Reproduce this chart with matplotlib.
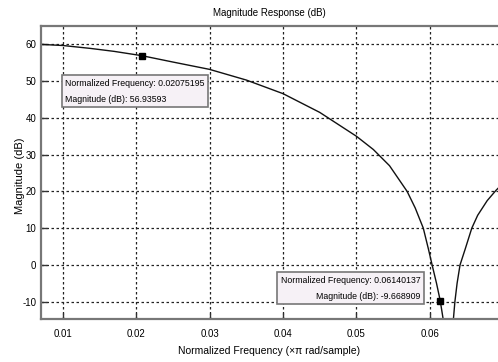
import matplotlib
matplotlib.use("Agg")
import matplotlib.pyplot as plt
from matplotlib import font_manager

names = {f.name for f in font_manager.fontManager.ttflist}
fam = ['Liberation Sans Narrow', 'Liberation Sans', 'DejaVu Sans']
fam = [f for f in fam if f in names] + ['DejaVu Sans']
plt.rcParams['font.family'] = fam

# Curve (normalized frequency, magnitude in dB)
freq = [0.0070, 0.0100, 0.0138, 0.0170, 0.02075, 0.0250, 0.0300,
        0.0350, 0.0400, 0.0450, 0.0500, 0.0523, 0.0545, 0.0569, 0.0580,
        0.0591, 0.0598, 0.0603, 0.0609, 0.0614, 0.0618, 0.0622, 0.0626,
        0.0630, 0.0632, 0.0634, 0.0637, 0.0641, 0.0648, 0.0657, 0.0665,
        0.0678, 0.0690, 0.0700]
mag = [60.0, 59.7, 58.9, 58.1, 56.94, 55.2, 53.2,
       50.3, 46.6, 41.5, 35.0, 31.4, 27.0, 20.0, 15.5,
       10.0, 4.3, 0.0, -5.0, -9.67, -14.7, -24.0, -40.0,
       -24.0, -14.7, -10.0, -5.0, 0.0, 4.3, 10.0, 13.5,
       17.5, 20.3, 22.3]

# Data tips
tip_x = [0.02075195, 0.06140137]
tip_y = [56.93593, -9.668909]

xticks = [0.01, 0.02, 0.03, 0.04, 0.05, 0.06]
yticks = [-10, 0, 10, 20, 30, 40, 50, 60]

W, H = 498, 362
fig = plt.figure(figsize=(W / 100, H / 100), dpi=100)
ax = fig.add_axes([41 / W, 1 - 319 / H, (498 - 41) / W, (319 - 26) / H])

ax.plot(freq, mag, color='#111111', lw=1.0)
ax.plot(tip_x, tip_y, 's', color='black', ms=4.5)

ax.set_xlim(0.00705, 0.06927)
ax.set_ylim(-14.7, 65.0)
ax.set_xticks(xticks)
ax.set_xticklabels([f"{v:g}" for v in xticks])
ax.set_yticks(yticks)
ax.set_yticklabels([str(v) for v in yticks])
ax.tick_params(direction='in', length=4, width=1, labelsize=7, color='#333333')
ax.tick_params(axis='x', pad=7)
ax.grid(True, linestyle=(0, (2, 2)), color='#222222', lw=0.9)
ax.set_axisbelow(True)
for s in ['left', 'bottom', 'top']:
    ax.spines[s].set_color('#777777')
    ax.spines[s].set_linewidth(1.6)
ax.spines['right'].set_visible(False)

ax.set_title('Magnitude Response (dB)', fontsize=7, pad=7)
ax.set_xlabel('Normalized Frequency (\u00d7\u03c0 rad/sample)', fontsize=7.5, labelpad=5)
ax.set_ylabel('Magnitude (dB)', fontsize=8)
ax.yaxis.set_label_coords(-0.034, 0.49)

box = dict(boxstyle='square,pad=0.4', fc='#f6f1f6', ec='#777777', lw=1.2)
ax.text(0.01032, 47.2,
        f"Normalized Frequency: {tip_x[0]:.8f}\nMagnitude (dB): {tip_y[0]:.5f}",
        fontsize=6.3, ha='left', va='center', bbox=box, linespacing=2.0)
ax.text(0.05873, -6.4,
        f"Normalized Frequency: {tip_x[1]:.8f}\nMagnitude (dB): {tip_y[1]:.6f}",
        fontsize=6.3, ha='right', va='center', multialignment='right',
        bbox=box, linespacing=2.0)

fig.savefig('out.png', dpi=100)
